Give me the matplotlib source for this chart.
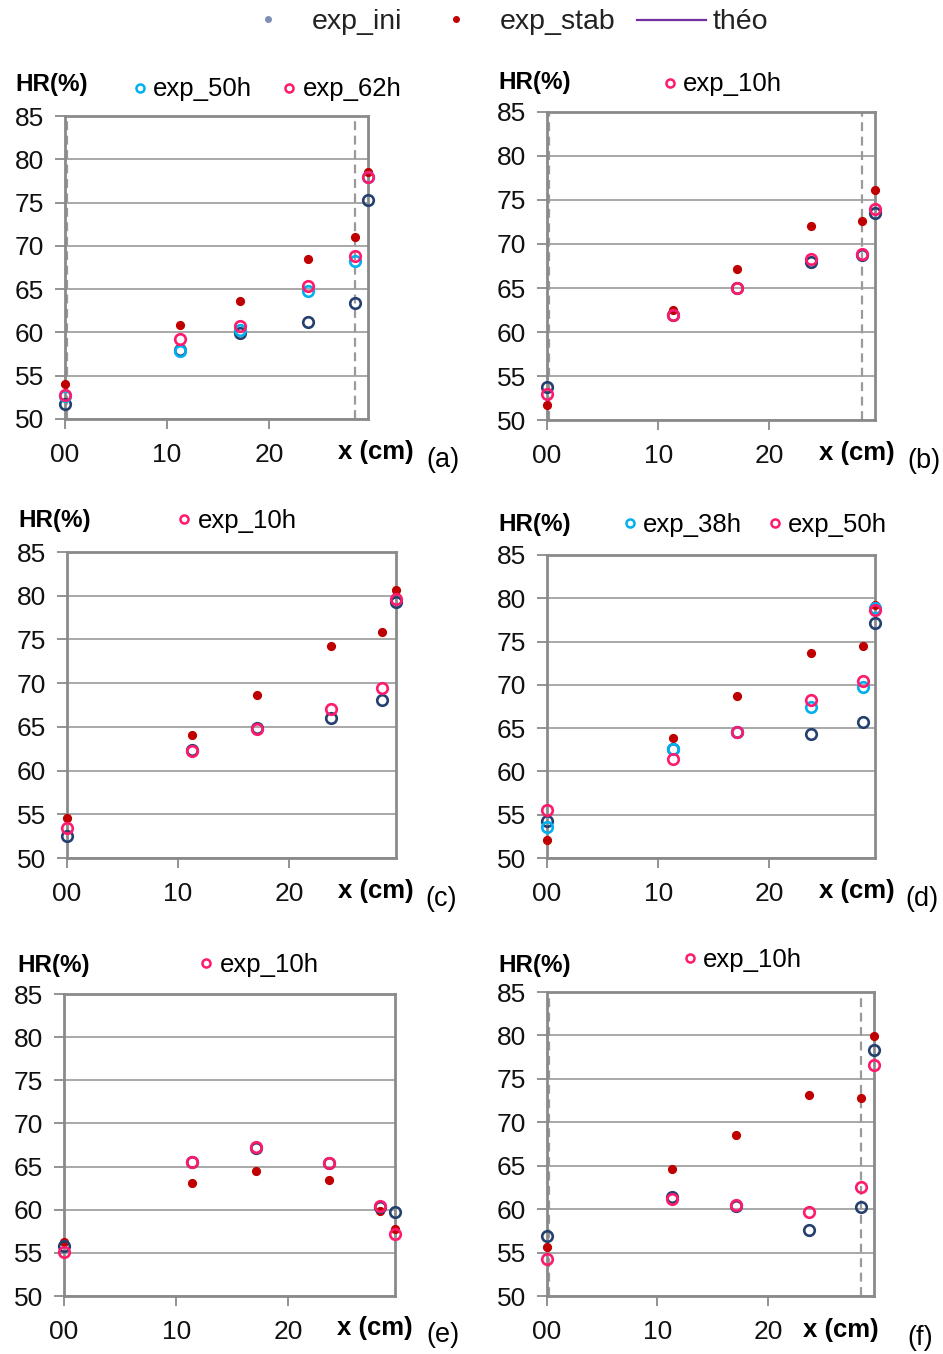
import matplotlib
matplotlib.use('Agg')
import matplotlib.pyplot as plt
from matplotlib.lines import Line2D
from matplotlib.ticker import FuncFormatter

plt.rcParams['font.family'] = ['Liberation Sans', 'DejaVu Sans']

W, H, DPI = 943, 1354, 100

# ---------------- data ----------------
yticks = [50, 55, 60, 65, 70, 75, 80, 85]
xticks = [0, 10, 20]

x_a = [0.0, 11.3, 17.2, 23.8, 28.4, 29.7]
a_stab = [54.0, 60.9, 63.6, 68.5, 71.0, 78.5]
a_ini = [51.7, 58.0, 59.9, 61.2, 63.4, 75.3]
a_50h = [52.7, 57.9, 60.3, 64.8, 68.2, 77.9]
a_62h = [52.8, 59.2, 60.8, 65.4, 68.8, 77.9]

x_b = [0.0, 11.3, 17.1, 23.7, 28.3, 29.5]
b_stab = [51.7, 62.5, 67.2, 72.0, 72.6, 76.1]
b_ini = [53.7, 61.9, 65.0, 67.9, 68.8, 73.5]
b_10h = [53.0, 61.9, 65.0, 68.3, 68.9, 74.0]

x_c = [0.0, 11.3, 17.1, 23.8, 28.4, 29.65]
c_stab = [54.6, 64.1, 68.7, 74.3, 75.8, 80.6]
c_ini = [52.5, 62.4, 64.9, 66.0, 68.1, 79.3]
c_10h = [53.4, 62.2, 64.7, 67.0, 69.4, 79.6]

x_d = [0.0, 11.3, 17.1, 23.7, 28.4, 29.5]
d_stab = [52.1, 63.9, 68.7, 73.7, 74.5, 79.2]
d_ini = [54.3, 62.6, 64.5, 64.3, 65.7, 77.1]
d_38h = [53.6, 62.6, 64.5, 67.5, 69.7, 78.9]
d_50h = [55.5, 61.4, 64.5, 68.2, 70.5, 78.6]

x_e = [0.0, 11.4, 17.1, 23.6, 28.2, 29.5]
e_stab = [56.3, 63.1, 64.5, 63.4, 59.8, 57.8]
e_ini = [55.8, 65.5, 67.1, 65.4, 60.3, 59.7]
e_10h = [55.1, 65.5, 67.3, 65.4, 60.4, 57.2]

x_f = [0.0, 11.3, 17.1, 23.7, 28.4, 29.6]
f_stab = [55.6, 64.6, 68.5, 73.1, 72.8, 79.9]
f_ini = [56.9, 61.4, 60.4, 57.6, 60.2, 78.3]
f_10h = [54.3, 61.2, 60.5, 59.7, 62.5, 76.6]

# vertical dashed reference lines (cm)
dash_a = [0.15, 28.4]
dash_b = [0.2, 28.35]
dash_f = [0.2, 28.4]

# ---------------- styles ----------------
C_INI = '#25406e'
C_STAB = '#c00000'
C_CYAN = '#00b0f0'
C_PINK = '#ff1a6e'
C_GRID = '#a8a8a8'
C_SPINE = '#8a8a8a'

fig = plt.figure(figsize=(W / DPI, H / DPI), dpi=DPI)


def fx(px):
    return px / W


def fy(py):
    return 1 - py / H


def open_pts(ax, x, y, c):
    ax.plot(x, y, ls='none', marker='o', ms=7.6, mfc='none', mec=c, mew=1.9,
            clip_on=False, zorder=4)


panels = [
    dict(rect=(65, 368, 116, 419), x=x_a, stab=a_stab, ini=a_ini,
         others=[('exp_50h', a_50h, C_CYAN), ('exp_62h', a_62h, C_PINK)],
         dash=dash_a, tag='(a)',
         hr=(15, 91), leg=[(140, 88, 153, 96), (289, 88, 303, 96)],
         xl=(338, 459), tg=(426, 467)),
    dict(rect=(547, 875, 112, 420), x=x_b, stab=b_stab, ini=b_ini,
         others=[('exp_10h', b_10h, C_PINK)],
         dash=dash_b, tag='(b)',
         hr=(498, 89), leg=[(670, 83, 683, 91)],
         xl=(819, 460), tg=(907, 468)),
    dict(rect=(67, 396, 552, 858), x=x_c, stab=c_stab, ini=c_ini,
         others=[('exp_10h', c_10h, C_PINK)],
         dash=[], tag='(c)',
         hr=(18, 527), leg=[(184, 519, 198, 528)],
         xl=(338, 898), tg=(425, 906)),
    dict(rect=(547, 875, 555, 858), x=x_d, stab=d_stab, ini=d_ini,
         others=[('exp_38h', d_38h, C_CYAN), ('exp_50h', d_50h, C_PINK)],
         dash=[], tag='(d)',
         hr=(498, 531), leg=[(630, 523, 643, 532), (775, 523, 788, 532)],
         xl=(819, 898), tg=(905, 906)),
    dict(rect=(64, 395, 994, 1296), x=x_e, stab=e_stab, ini=e_ini,
         others=[('exp_10h', e_10h, C_PINK)],
         dash=[], tag='(e)',
         hr=(17, 972), leg=[(206, 963, 220, 972)],
         xl=(337, 1335), tg=(426, 1342)),
    dict(rect=(547, 874, 992, 1296), x=x_f, stab=f_stab, ini=f_ini,
         others=[('exp_10h', f_10h, C_PINK)],
         dash=dash_f, tag='(f)',
         hr=(498, 972), leg=[(690, 958, 703, 967)],
         xl=(803, 1337), tg=(907, 1345)),
]

for p in panels:
    l, r, t, b = p['rect']
    ax = fig.add_axes([fx(l), fy(b), (r - l) / W, (b - t) / H])
    ax.set_xlim(0, p['x'][-1])
    ax.set_ylim(50, 85)
    ax.set_yticks(yticks)
    ax.set_xticks(xticks)
    ax.xaxis.set_major_formatter(FuncFormatter(lambda v, pos: f'{v:02.0f}'))
    ax.tick_params(axis='both', direction='out', length=7, width=1.3,
                   color=C_SPINE, labelsize=19, labelcolor='#111111')
    ax.tick_params(axis='y', pad=8)
    ax.tick_params(axis='x', pad=10)
    for s in ax.spines.values():
        s.set_color(C_SPINE)
        s.set_linewidth(2)
    ax.set_axisbelow(True)
    ax.grid(axis='y', color=C_GRID, lw=1.4)
    for xv in p['dash']:
        ax.axvline(xv, color='#9a9a9a', lw=1.6, ls=(0, (4, 2.5)), zorder=2)
    ax.plot(p['x'], p['stab'], ls='none', marker='o', ms=5.6, mfc=C_STAB,
            mec=C_STAB, clip_on=False, zorder=3)
    open_pts(ax, p['x'], p['ini'], C_INI)
    for name, vals, col in p['others']:
        open_pts(ax, p['x'], vals, col)

    # panel legend & labels
    fig.text(fx(p['hr'][0]), fy(p['hr'][1]), 'HR(%)', fontsize=17.5,
             fontweight='bold', va='baseline', ha='left')
    for (mx, my, tx, ty), (name, vals, col) in zip(p['leg'], p['others']):
        fig.add_artist(Line2D([fx(mx)], [fy(my)], transform=fig.transFigure,
                              marker='o', ms=5.8, mfc='none', mec=col, mew=1.8))
        fig.text(fx(tx), fy(ty), name, fontsize=18.5, va='baseline', ha='left')
    fig.text(fx(p['xl'][0]), fy(p['xl'][1]), 'x (cm)', fontsize=18.5,
             fontweight='bold', va='baseline', ha='left')
    fig.text(fx(p['tg'][0]), fy(p['tg'][1]), p['tag'], fontsize=19.5,
             va='baseline', ha='left')

# ---------------- global legend ----------------
fig.add_artist(Line2D([fx(268)], [fy(19)], transform=fig.transFigure,
                      marker='o', ms=4, mfc='#7f8fb4', mec='#7f8fb4'))
fig.text(fx(312), fy(29), 'exp_ini', fontsize=20.5, va='baseline', ha='left',
         color='#222222')
fig.add_artist(Line2D([fx(456)], [fy(19)], transform=fig.transFigure,
                      marker='o', ms=4, mfc=C_STAB, mec=C_STAB))
fig.text(fx(500), fy(29), 'exp_stab', fontsize=20.5, va='baseline', ha='left',
         color='#222222')
fig.add_artist(Line2D([fx(637), fx(706)], [fy(20), fy(20)],
                      transform=fig.transFigure, color='#7030a0', lw=1.6))
fig.text(fx(713), fy(29), 'théo', fontsize=20.5, va='baseline', ha='left',
         color='#222222')

fig.savefig('out.png', dpi=DPI)
